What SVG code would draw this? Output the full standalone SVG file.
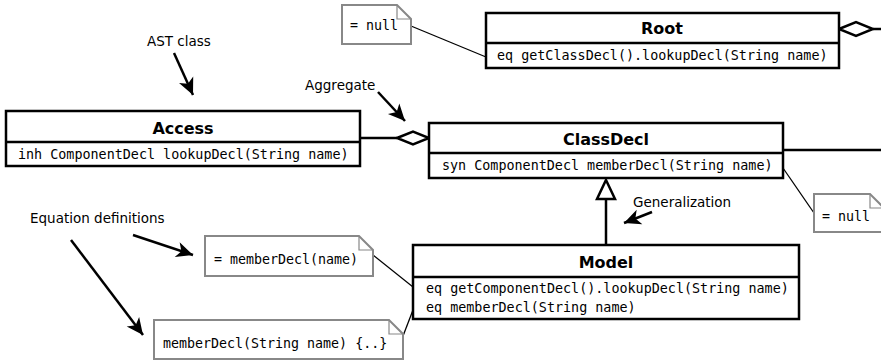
<svg xmlns="http://www.w3.org/2000/svg" width="881" height="361" viewBox="0 0 881 361">
  <style>
    .box { fill: #fff; stroke: #000; stroke-width: 2.5; }
    .div { stroke: #000; stroke-width: 2.5; fill: none; }
    .title { font-family: "DejaVu Sans", sans-serif; font-weight: bold; font-size: 16px; text-anchor: middle; fill: #000; }
    .code { font-family: "DejaVu Sans Mono", monospace; font-size: 13.4px; fill: #000; }
    .ncode { font-family: "DejaVu Sans Mono", monospace; font-size: 13.3px; fill: #000; }
    .label { font-family: "DejaVu Sans", sans-serif; font-size: 13.5px; fill: #000; }
    .note { fill: #fff; stroke: #888; stroke-width: 2; }
    .fold { fill: none; stroke: #888; stroke-width: 1.2; }
    .link { stroke: #000; stroke-width: 1.3; fill: none; }
    .assoc { stroke: #000; stroke-width: 2.5; fill: none; }
    .pointer { stroke: #000; stroke-width: 2.5; fill: none; marker-end: url(#head); }
    .diamond { fill: #fff; stroke: #000; stroke-width: 2.5; }
  </style>
  <defs>
    <marker id="head" markerUnits="userSpaceOnUse" markerWidth="20" markerHeight="20" viewBox="-16 -8 18 16" refX="0" refY="0" orient="auto">
      <path d="M0,0 L-15,-7 L-11,0 L-15,7 Z" fill="#000"/>
    </marker>
  </defs>

  <!-- connectors -->
  <g id="connectors">
    <!-- aggregation: Root -->
    <line class="assoc" x1="873" y1="29" x2="881" y2="29"/>
    <path class="diamond" d="M839,29 L856,22 L873,29 L856,36 Z"/>
    <!-- aggregation: Access to ClassDecl -->
    <line class="assoc" x1="360" y1="138" x2="397" y2="138"/>
    <path class="diamond" d="M397,138 L413,131.5 L429,138 L413,144.5 Z"/>
    <!-- ClassDecl association to the right -->
    <line class="assoc" x1="783" y1="150" x2="881" y2="150"/>
    <!-- generalization Model -> ClassDecl -->
    <line class="assoc" x1="606" y1="199" x2="606" y2="245"/>
    <path class="diamond" d="M606,180 L615,199 L597,199 Z"/>
    <!-- note links -->
    <line class="link" x1="411" y1="26" x2="486" y2="57"/>
    <line class="link" x1="783" y1="168" x2="814" y2="213"/>
    <line class="link" x1="373" y1="255" x2="413" y2="287"/>
    <line class="link" x1="403" y1="336" x2="413" y2="310"/>
    <!-- annotation pointers -->
    <line class="pointer" x1="174" y1="53" x2="193" y2="95"/>
    <line class="pointer" x1="378" y1="92" x2="405" y2="121"/>
    <line class="pointer" x1="652" y1="212" x2="624" y2="223"/>
    <line class="pointer" x1="133" y1="235" x2="193" y2="255"/>
    <line class="pointer" x1="71" y1="240" x2="143" y2="335"/>
  </g>

  <!-- annotation labels -->
  <g id="labels">
    <text class="label" x="147" y="46">AST class</text>
    <text class="label" x="305" y="90">Aggregate</text>
    <text class="label" x="633" y="207">Generalization</text>
    <text class="label" x="30" y="223">Equation definitions</text>
  </g>

  <g id="Root">
    <rect class="box" x="486" y="13" width="353" height="55"/>
    <line class="div" x1="486" y1="43" x2="839" y2="43"/>
    <text class="title" x="662" y="34">Root</text>
    <text class="code" x="497" y="60">eq getClassDecl().lookupDecl(String name)</text>
  </g>

  <g id="Access">
    <rect class="box" x="6" y="111" width="354" height="55"/>
    <line class="div" x1="6" y1="142" x2="360" y2="142"/>
    <text class="title" x="183" y="134">Access</text>
    <text class="code" x="18" y="159">inh ComponentDecl lookupDecl(String name)</text>
  </g>

  <g id="ClassDecl">
    <rect class="box" x="429" y="123" width="354" height="55"/>
    <line class="div" x1="429" y1="153" x2="783" y2="153"/>
    <text class="title" x="606" y="145">ClassDecl</text>
    <text class="code" x="442" y="170">syn ComponentDecl memberDecl(String name)</text>
  </g>

  <g id="Model">
    <rect class="box" x="413" y="245" width="386" height="74"/>
    <line class="div" x1="413" y1="277" x2="799" y2="277"/>
    <text class="title" x="606" y="268">Model</text>
    <text class="code" x="426" y="293">eq getComponentDecl().lookupDecl(String name)</text>
    <text class="code" x="426" y="312">eq memberDecl(String name)</text>
  </g>

  <g id="note-root">
    <path class="note" d="M342,5 H397 L411,19 V44 H342 Z"/>
    <path class="fold" d="M397,5 V19 H411"/>
    <text class="ncode" x="350" y="30">= null</text>
  </g>

  <g id="note-classdecl">
    <path class="note" d="M814,194 H870 L884,208 V232 H814 Z"/>
    <path class="fold" d="M870,194 V208 H884"/>
    <text class="ncode" x="822" y="221">= null</text>
  </g>

  <g id="note-model-eq">
    <path class="note" d="M205,236 H359 L373,250 V276 H205 Z"/>
    <path class="fold" d="M359,236 V250 H373"/>
    <text class="ncode" x="214" y="264">= memberDecl(name)</text>
  </g>

  <g id="note-model-body">
    <path class="note" d="M154,320 H389 L403,334 V359 H154 Z"/>
    <path class="fold" d="M389,320 V334 H403"/>
    <text class="ncode" x="163" y="348">memberDecl(String name) {..}</text>
  </g>
</svg>
